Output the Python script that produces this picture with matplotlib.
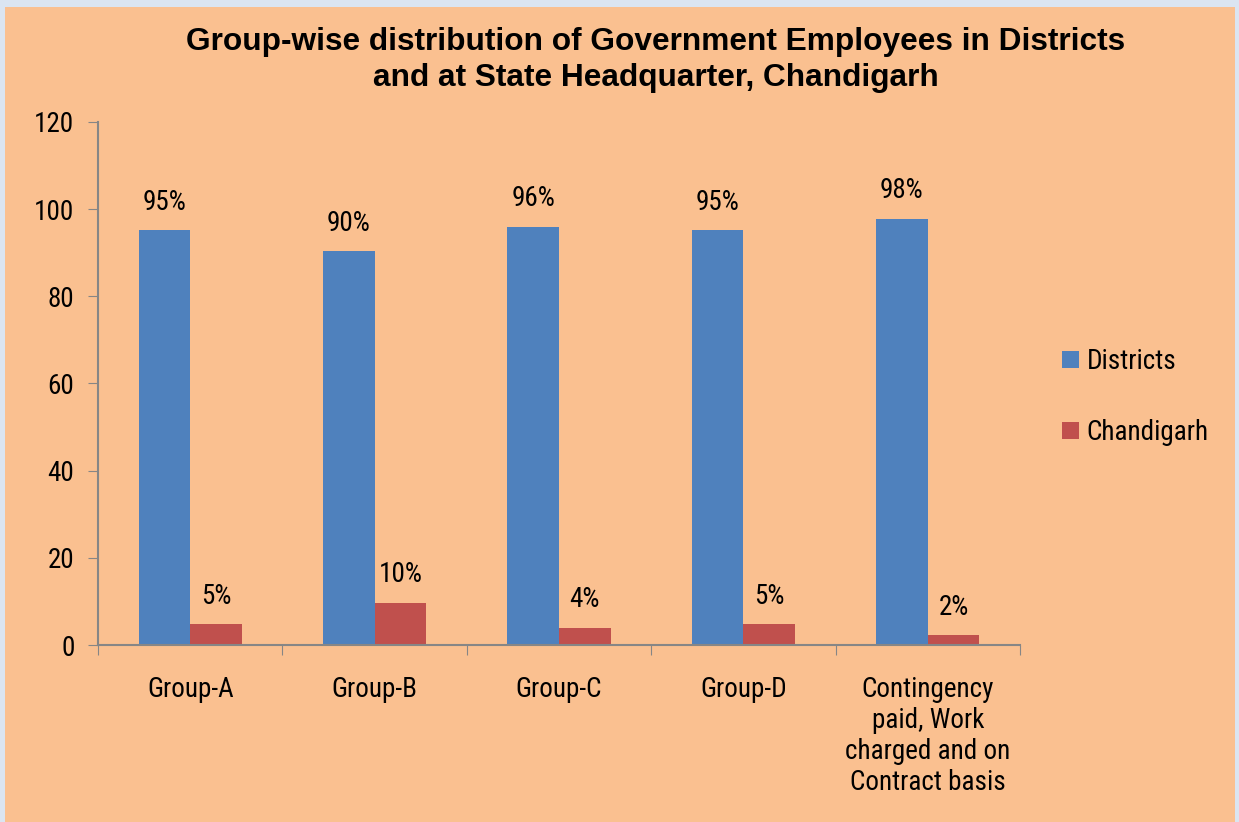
import matplotlib
matplotlib.use("Agg")
import matplotlib.pyplot as plt
import matplotlib.patches as mpatches
import numpy as np
from matplotlib import font_manager

categories = ["Group-A", "Group-B", "Group-C", "Group-D",
              "Contingency\npaid, Work\ncharged and on\nContract basis"]
districts = [95.2, 90.3, 96.0, 95.2, 97.8]
chandigarh = [4.8, 9.7, 4.0, 4.8, 2.2]
districts_lbl = ["95%", "90%", "96%", "95%", "98%"]
chandigarh_lbl = ["5%", "10%", "4%", "5%", "2%"]

names = {f.name for f in font_manager.fontManager.ttflist}
narrow = "Liberation Sans Narrow" if "Liberation Sans Narrow" in names else "Roboto Condensed"
if narrow not in names:
    narrow = "Liberation Sans"
fs = 19.5

W, H = 1239, 822
fig = plt.figure(figsize=(W / 100, H / 100), dpi=100)
fig.patch.set_facecolor("#DBE5F1")
# orange chart area inside light blue frame
fig.patches.append(mpatches.Rectangle((5 / W, 0), (W - 9) / W, (H - 7) / H,
                                      transform=fig.transFigure,
                                      facecolor="#FAC090", edgecolor="none", zorder=0))

ax = fig.add_axes([98 / W, 1 - 645 / H, (1020 - 98) / W, (645 - 122) / H])
ax.set_facecolor("none")
ax.set_zorder(2)

x = np.arange(len(categories))
bw = 0.28
b1 = ax.bar(x - bw / 2, districts, bw, color="#4F81BD", label="Districts")
b2 = ax.bar(x + bw / 2, chandigarh, bw, color="#C0504D", label="Chandigarh")

for rect, t in zip(b1, districts_lbl):
    ax.text(rect.get_x() + rect.get_width() / 2, rect.get_height() + 3.3, t,
            ha="center", va="bottom", fontsize=fs, family=narrow)
for rect, t in zip(b2, chandigarh_lbl):
    ax.text(rect.get_x() + rect.get_width() / 2, rect.get_height() + 3.3, t,
            ha="center", va="bottom", fontsize=fs, family=narrow)

ax.set_xlim(-0.5, len(categories) - 0.5)
ax.set_ylim(0, 120)
ax.set_yticks(range(0, 121, 20))
ax.set_xticks(np.arange(-0.5, len(categories)), minor=False)
ax.set_xticklabels([])
ax.set_xticks(x, minor=True)
ax.set_xticklabels(categories, minor=True, fontsize=fs, family=narrow, linespacing=1.2, va="top")
ax.tick_params(axis="x", which="minor", length=0, pad=22)
ax.tick_params(axis="x", which="major", length=7, color="#868686", direction="out")
ax.tick_params(axis="y", length=7, color="#868686", labelsize=fs, pad=10)
for lbl in ax.get_yticklabels():
    lbl.set_family(narrow)

for s in ["top", "right"]:
    ax.spines[s].set_visible(False)
for s in ["left", "bottom"]:
    ax.spines[s].set_color("#868686")
    ax.spines[s].set_linewidth(1.5)

fig.text(656 / W, 1 - 60 / H,
         "Group-wise distribution of Government Employees in Districts\nand at State Headquarter, Chandigarh",
         ha="center", va="center", fontsize=22.8, fontweight="bold",
         family="Liberation Sans", linespacing=1.25, zorder=3)

leg = fig.legend(handles=[b1, b2], loc="center left", bbox_to_anchor=(1038 / W, 1 - 397 / H),
                 frameon=False, prop={"family": narrow, "size": fs},
                 handlelength=0.6, handleheight=0.6, handletextpad=0.3, labelspacing=1.65)
leg.set_zorder(3)

fig.savefig("out.png", dpi=100, facecolor=fig.get_facecolor())
